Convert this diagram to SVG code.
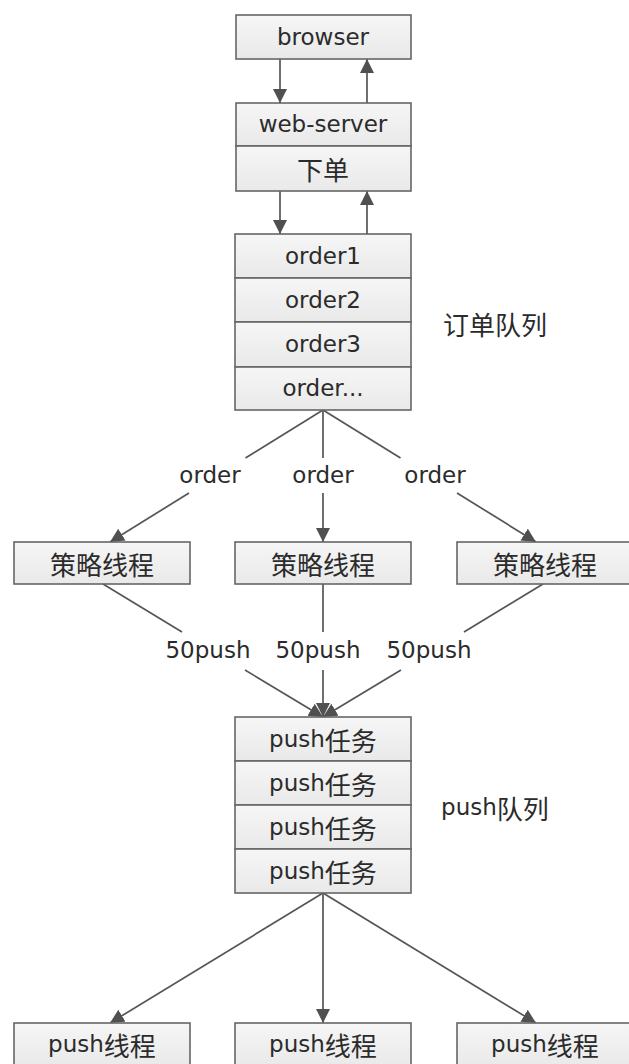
<svg xmlns="http://www.w3.org/2000/svg" width="629" height="1064" viewBox="0 0 629 1064">
<defs>
<linearGradient id="bg" x1="0" y1="0" x2="0" y2="1">
<stop offset="0" stop-color="#f6f6f6"/>
<stop offset="1" stop-color="#e9e9e9"/>
</linearGradient>
<marker id="ah" markerUnits="userSpaceOnUse" markerWidth="15" markerHeight="15" refX="14" refY="7" orient="auto">
<path d="M0,0 L14,7 L0,14 z" fill="#505050"/>
</marker>
</defs>
<style>
.box{fill:url(#bg);stroke:#666;stroke-width:1.6}
.t{font-family:"DejaVu Sans","Noto Sans CJK SC",sans-serif;font-size:23px;fill:#2b2b2b;text-anchor:middle;dominant-baseline:central}
.c{font-family:"Noto Sans CJK SC",sans-serif;font-size:26px}
.ln{stroke:#555;stroke-width:1.7;fill:none}
.ar{stroke:#555;stroke-width:1.7;fill:none;marker-end:url(#ah)}
</style>
<rect width="629" height="1064" fill="#fff"/>

<g id="connectors">
<line class="ar" x1="280" y1="59" x2="280" y2="103"/>
<line class="ar" x1="367" y1="103" x2="367" y2="59"/>
<line class="ar" x1="280" y1="191" x2="280" y2="234"/>
<line class="ar" x1="367" y1="234" x2="367" y2="191"/>

<line class="ln" x1="323" y1="410" x2="245.5" y2="458"/>
<line class="ar" x1="189" y1="493" x2="110" y2="542"/>
<line class="ln" x1="323" y1="410" x2="323" y2="458"/>
<line class="ar" x1="323" y1="493" x2="323" y2="542"/>
<line class="ln" x1="323" y1="410" x2="400.5" y2="458"/>
<line class="ar" x1="457" y1="493" x2="536" y2="542"/>

<line class="ln" x1="103" y1="584" x2="182" y2="632"/>
<line class="ar" x1="245" y1="670" x2="323" y2="717"/>
<line class="ln" x1="323" y1="584" x2="323" y2="632"/>
<line class="ar" x1="323" y1="670" x2="323" y2="717"/>
<line class="ln" x1="543" y1="584" x2="464" y2="632"/>
<line class="ar" x1="401" y1="670" x2="323" y2="717"/>

<line class="ar" x1="323" y1="893" x2="110" y2="1023"/>
<line class="ar" x1="323" y1="893" x2="323" y2="1023"/>
<line class="ar" x1="323" y1="893" x2="536" y2="1023"/>

<text class="t" x="210" y="475">order</text>
<text class="t" x="323" y="475">order</text>
<text class="t" x="435" y="475">order</text>
<text class="t" x="208" y="650">50push</text>
<text class="t" x="318" y="650">50push</text>
<text class="t" x="429" y="650">50push</text>
</g>

<g id="browser">
<rect class="box" x="236" y="15" width="175" height="44"/>
<text class="t" x="323" y="37">browser</text>
</g>

<g id="web-server">
<rect class="box" x="236" y="103" width="175" height="43"/>
<text class="t" x="323" y="124">web-server</text>
<rect class="box" x="236" y="146" width="175" height="45"/>
<text class="t c" x="323" y="168">下单</text>
</g>

<g id="order-queue">
<rect class="box" x="235" y="234" width="176" height="44"/>
<text class="t" x="323" y="256">order1</text>
<rect class="box" x="235" y="278" width="176" height="44"/>
<text class="t" x="323" y="300">order2</text>
<rect class="box" x="235" y="322" width="176" height="45"/>
<text class="t" x="323" y="344">order3</text>
<rect class="box" x="235" y="367" width="176" height="43"/>
<text class="t" x="323" y="388">order...</text>
<text class="t c" x="495" y="323">订单队列</text>
</g>

<g id="strategy1">
<rect class="box" x="14" y="542" width="176" height="42"/>
<text class="t c" x="102" y="563">策略线程</text>
</g>
<g id="strategy2">
<rect class="box" x="235" y="542" width="176" height="42"/>
<text class="t c" x="323" y="563">策略线程</text>
</g>
<g id="strategy3">
<rect class="box" x="457" y="542" width="176" height="42"/>
<text class="t c" x="545" y="563">策略线程</text>
</g>

<g id="push-queue">
<rect class="box" x="235" y="717" width="176" height="44"/>
<text class="t" x="323" y="739">push<tspan class="c">任务</tspan></text>
<rect class="box" x="235" y="761" width="176" height="44"/>
<text class="t" x="323" y="783">push<tspan class="c">任务</tspan></text>
<rect class="box" x="235" y="805" width="176" height="44"/>
<text class="t" x="323" y="827">push<tspan class="c">任务</tspan></text>
<rect class="box" x="235" y="849" width="176" height="44"/>
<text class="t" x="323" y="871">push<tspan class="c">任务</tspan></text>
<text class="t" x="495" y="807">push<tspan class="c">队列</tspan></text>
</g>

<g id="push-thread1">
<rect class="box" x="14" y="1023" width="176" height="44"/>
<text class="t" x="102" y="1044">push<tspan class="c">线程</tspan></text>
</g>
<g id="push-thread2">
<rect class="box" x="235" y="1023" width="176" height="44"/>
<text class="t" x="323" y="1044">push<tspan class="c">线程</tspan></text>
</g>
<g id="push-thread3">
<rect class="box" x="457" y="1023" width="176" height="44"/>
<text class="t" x="545" y="1044">push<tspan class="c">线程</tspan></text>
</g>
</svg>
